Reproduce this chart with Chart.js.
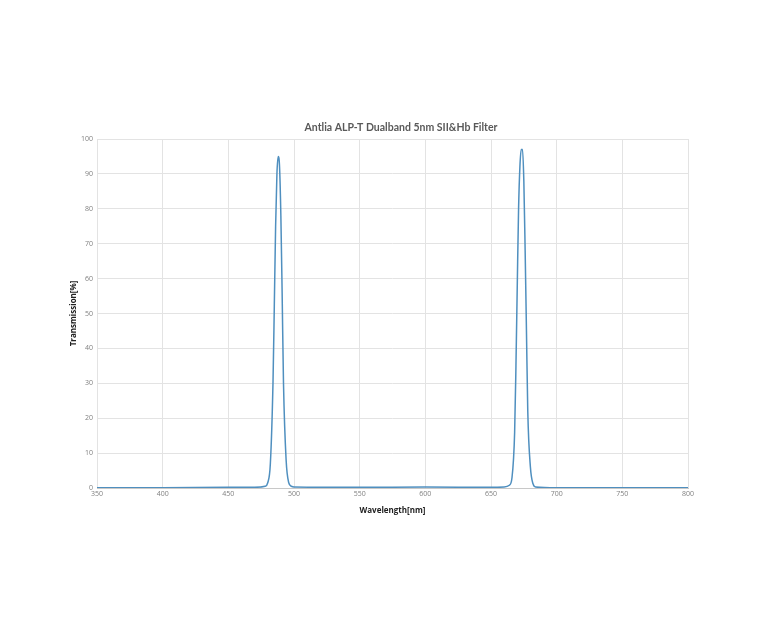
<!DOCTYPE html>
<html>
<head>
<meta charset="utf-8">
<script src="https://cdn.jsdelivr.net/npm/chart.js@4/dist/chart.umd.min.js"></script>
<style>
  html, body { margin: 0; padding: 0; background: #fff; }
  #wrap { width: 768px; height: 640px; }
</style>
</head>
<body>
<div id="wrap"><canvas id="chart"></canvas></div>
<script>
// wavelength (nm)
const wavelength = [350, 400, 450, 470, 478, 480, 482, 484, 485, 486, 487, 488, 489, 490, 491, 492, 494, 496, 498, 500,
  550, 600, 650, 660, 664, 666, 668, 669, 670, 671, 672, 673, 674, 675, 676, 677, 678, 680, 682, 684, 700, 750, 800];
// transmission (%)
const transmission = [0.1, 0.1, 0.2, 0.2, 0.5, 1.5, 7, 30, 52, 75, 90, 95, 92, 78, 55, 30, 8, 1.5, 0.5, 0.3,
  0.2, 0.3, 0.2, 0.3, 0.8, 3, 16, 35, 58, 80, 92, 97, 97, 88, 68, 45, 22, 6, 1.2, 0.3, 0.1, 0.1, 0.1];

const chartTitle = 'Antlia ALP-T Dualband 5nm SII&Hb Filter';
const xTitle = 'Wavelength[nm]';
const yTitle = 'Transmission[%]';

// title sits a bit right of the plot centre, like the original
const titlePlugin = {
  id: 'topTitle',
  afterDraw(chart) {
    const ctx = chart.ctx;
    ctx.save();
    ctx.font = 'bold 10.5px Lato';
    ctx.fillStyle = '#595959';
    ctx.textAlign = 'center';
    ctx.textBaseline = 'middle';
    ctx.fillText(chartTitle, 401, 128);
    ctx.restore();
  },
};

new Chart(document.getElementById('chart'), {
  type: 'line',
  data: {
    datasets: [
      {
        data: wavelength.map((w, i) => ({ x: w, y: transmission[i] })),
        borderColor: '#4f8fbf',
        borderWidth: 1.5,
        pointRadius: 0,
        fill: false,
        tension: 0.4,
        cubicInterpolationMode: 'monotone',
      },
    ],
  },
  options: {
    responsive: true,
    maintainAspectRatio: false,
    animation: false,
    layout: {
      padding: { left: 65, right: 80, top: 139, bottom: 120 },
    },
    scales: {
      x: {
        type: 'linear',
        min: 350,
        max: 800,
        ticks: {
          stepSize: 50,
          color: '#808080',
          font: { family: 'Open Sans', size: 7 },
          padding: 2,
          maxRotation: 0,
        },
        grid: { color: '#e3e3e3', tickLength: 0 },
        border: { color: '#c8c8c8' },
        title: {
          display: true,
          text: xTitle,
          color: '#222',
          font: { family: 'Open Sans', size: 8, weight: 'bold' },
          padding: { top: 6 },
        },
        afterFit: (scale) => { scale.height = 32; },
      },
      y: {
        min: 0,
        max: 100,
        ticks: {
          stepSize: 10,
          color: '#808080',
          font: { family: 'Open Sans', size: 7 },
          padding: 4,
        },
        grid: { color: '#e3e3e3', tickLength: 0 },
        border: { display: false },
        title: {
          display: true,
          text: yTitle,
          color: '#222',
          font: { family: 'Open Sans', size: 8, weight: 'bold' },
          padding: { bottom: 6 },
        },
        afterFit: (scale) => { scale.width = 32; },
      },
    },
    plugins: {
      legend: { display: false },
      tooltip: { enabled: false },
      title: { display: false },
    },
  },
  plugins: [titlePlugin],
});
</script>
</body>
</html>
